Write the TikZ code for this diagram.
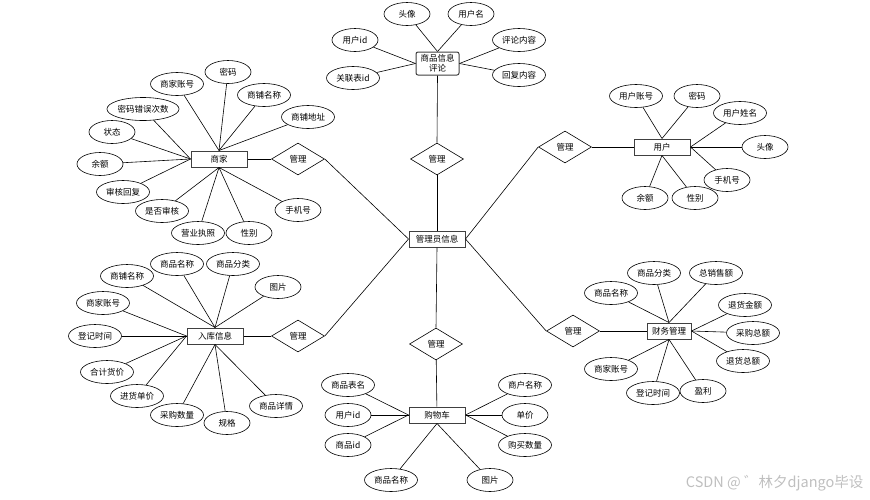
\documentclass[tikz,border=0pt]{standalone}
\usepackage{fontspec}
\setmainfont{Noto Sans CJK SC}
\usetikzlibrary{shapes.geometric}

\begin{document}
\begin{tikzpicture}[x=1pt,y=-1pt,line width=0.6pt,
        attr/.style={draw, ellipse, fill=white, inner sep=0pt, minimum width=53pt, minimum height=23pt, font=\fontsize{8.5}{10}\selectfont},
        attrs/.style={attr, minimum width=46pt},
        entity/.style={draw=black!75, line width=1pt, fill=white, rectangle, inner sep=1pt, minimum width=56pt, minimum height=16pt, font=\fontsize{8.5}{10}\selectfont},
        rel/.style={draw, diamond, fill=white, inner sep=0pt, minimum width=53pt, minimum height=32pt, font=\fontsize{8.5}{10}\selectfont}]
        \useasboundingbox (0,0) rectangle (870,499);
        % Entidade central
        \node[entity] (admin) at (437,239) {管理员信息};

        %商家
        \node[entity] (sj) at (219,159) {商家};
        \node[rel] (gl-sj) at (298,159) {管理};
        \node[attr]  (sj-zh)   at (177,84)  {商家账号};
        \node[attrs] (sj-mm)   at (228,72)  {密码};
        \node[attr]  (sj-dpmc) at (264,95)  {商铺名称};
        \node[attr]  (sj-dpdz) at (308,117) {商铺地址};
        \node[attr]  (sj-cw)   at (143,109) {密码错误次数};
        \node[attrs] (sj-zt)   at (112,132) {状态};
        \node[attrs] (sj-ye)   at (100,164) {余额};
        \node[attr]  (sj-shhf) at (123,192) {审核回复};
        \node[attr]  (sj-sfsh) at (162,211) {是否审核};
        \node[attr]  (sj-yyzz) at (198,233) {营业执照};
        \node[attrs] (sj-xb)   at (249,233) {性别};
        \node[attrs] (sj-sjh)  at (298,210) {手机号};
        \draw (sj-zh) -- (sj.north);
        \draw (sj-mm) -- (sj.north);
        \draw (sj-dpmc) -- (sj.north);
        \draw (sj-dpdz) -- (sj.north);
        \draw (sj-cw) -- (sj.west);
        \draw (sj-zt) -- (sj.west);
        \draw (sj-ye) -- (sj.west);
        \draw (sj-shhf) -- (sj.west);
        \draw (sj-sfsh) -- (sj.south);
        \draw (sj-yyzz) -- (sj.south);
        \draw (sj-xb) -- (sj.south);
        \draw (sj-sjh) -- (sj.south);
        \draw (sj) -- (gl-sj);
        \draw (gl-sj.east) -- (admin.west);

        % Comentario
        \node[entity, rounded corners=2pt, align=center, minimum width=43pt, minimum height=23pt] (pl) at (437.5,63.5) {商品信息\\评论};
        \node[rel] (gl-pl) at (437,159) {管理};
        \node[attrs] (pl-tx)   at (407,14) {头像};
        \node[attrs] (pl-yhm)  at (471,14) {用户名};
        \node[attrs] (pl-yhid) at (355,40) {用户id};
        \node[attr]  (pl-glb)  at (353,78) {关联表id};
        \node[attr]  (pl-plnr) at (519,40) {评论内容};
        \node[attr]  (pl-hfnr) at (519,75) {回复内容};
        \draw (pl-tx) -- (pl.north);
        \draw (pl-yhm) -- (pl.north);
        \draw (pl-yhid) -- (pl.west);
        \draw (pl-glb) -- (pl.west);
        \draw (pl-plnr) -- (pl.east);
        \draw (pl-hfnr) -- (pl.east);
        \draw (pl.south) -- (gl-pl.north);
        \draw (gl-pl) -- (admin);

        % Usuario
        \node[entity] (yh) at (662,147) {用户};
        \node[rel] (gl-yh) at (565,147) {管理};
        \node[attr]  (yh-zh)  at (636,96)  {用户账号};
        \node[attrs] (yh-mm)  at (697,96)  {密码};
        \node[attr]  (yh-xm)  at (740,113) {用户姓名};
        \node[attrs] (yh-tx)  at (765,147) {头像};
        \node[attrs] (yh-sjh) at (727,180) {手机号};
        \node[attrs] (yh-ye)  at (645,198) {余额};
        \node[attrs] (yh-xb)  at (695,198) {性别};
        \draw (yh-zh) -- (yh.north);
        \draw (yh-mm) -- (yh.north);
        \draw (yh-xm) -- (yh.east);
        \draw (yh-tx) -- (yh.east);
        \draw (yh-sjh) -- (yh.east);
        \draw (yh-ye) -- (yh.south);
        \draw (yh-xb) -- (yh.south);
        \draw (admin.east) -- (gl-yh.west);
        \draw (gl-yh) -- (yh);

        % Entrada de estoque
        \node[entity] (rk) at (215,336) {入库信息};
        \node[rel] (gl-rk) at (298,336) {管理};
        \node[attr]  (rk-dpmc) at (127,276) {商铺名称};
        \node[attr]  (rk-spmc) at (177,264) {商品名称};
        \node[attr]  (rk-spfl) at (233,264) {商品分类};
        \node[attrs] (rk-tp)   at (278,287) {图片};
        \node[attr]  (rk-sjzh) at (103,303) {商家账号};
        \node[attr]  (rk-djsj) at (95,336)  {登记时间};
        \node[attr]  (rk-hjhj) at (107,372) {合计货价};
        \node[attr]  (rk-jhdj) at (137,396) {进货单价};
        \node[attr]  (rk-cgsl) at (177,415) {采购数量};
        \node[attrs] (rk-gg)   at (227,423) {规格};
        \node[attr]  (rk-spxq) at (276,406) {商品详情};
        \draw (rk-dpmc) -- (rk.north);
        \draw (rk-spmc) -- (rk.north);
        \draw (rk-spfl) -- (rk.north);
        \draw (rk-tp) -- (rk.north);
        \draw (rk-sjzh) -- (rk.west);
        \draw (rk-djsj) -- (rk.west);
        \draw (rk-hjhj) -- (rk.west);
        \draw (rk-jhdj) -- (rk.west);
        \draw (rk-cgsl) -- (rk.south);
        \draw (rk-gg) -- (rk.south);
        \draw (rk-spxq) -- (rk.south);
        \draw (rk) -- (gl-rk);
        \draw (gl-rk.east) -- (admin.west);

        % Financeiro
        \node[entity, minimum width=44pt] (cw) at (669,331) {财务管理};
        \node[rel] (gl-cw) at (573,331) {管理};
        \node[attr]  (cw-spmc) at (611,293) {商品名称};
        \node[attr]  (cw-spfl) at (654,273) {商品分类};
        \node[attr]  (cw-zxse) at (716,273) {总销售额};
        \node[attr]  (cw-thje) at (745,305) {退货金额};
        \node[attr]  (cw-cgze) at (753,333) {采购总额};
        \node[attr]  (cw-thze) at (743,361) {退货总额};
        \node[attrs] (cw-yl)   at (703,391) {盈利};
        \node[attr]  (cw-djsj) at (653,393) {登记时间};
        \node[attr]  (cw-sjzh) at (611,369) {商家账号};
        \draw (cw-spmc) -- (cw.north);
        \draw (cw-spfl) -- (cw.north);
        \draw (cw-zxse) -- (cw.north);
        \draw (cw-thje) -- (cw.east);
        \draw (cw-cgze) -- (cw.east);
        \draw (cw-thze) -- (cw.east);
        \draw (cw-yl) -- (cw.south);
        \draw (cw-djsj) -- (cw.south);
        \draw (cw-sjzh) -- (cw.south);
        \draw (admin.east) -- (gl-cw.west);
        \draw (gl-cw) -- (cw);

        % Carrinho
        \node[entity] (gwc) at (437,415) {购物车};
        \node[rel] (gl-gwc) at (436,344) {管理};
        \node[attr]  (gwc-spbm) at (348,385) {商品表名};
        \node[attrs] (gwc-yhid) at (348,415) {用户id};
        \node[attrs] (gwc-spid) at (348,445) {商品id};
        \node[attr]  (gwc-spmc) at (391,480) {商品名称};
        \node[attrs] (gwc-tp)   at (490,480) {图片};
        \node[attr]  (gwc-shmc) at (525,385) {商户名称};
        \node[attrs] (gwc-dj)   at (525,415) {单价};
        \node[attr]  (gwc-gmsl) at (525,445) {购买数量};
        \draw (gwc-spbm) -- (gwc.west);
        \draw (gwc-yhid) -- (gwc.west);
        \draw (gwc-spid) -- (gwc.west);
        \draw (gwc-shmc) -- (gwc.east);
        \draw (gwc-dj) -- (gwc.east);
        \draw (gwc-gmsl) -- (gwc.east);
        \draw (gwc-spmc) -- (gwc.south);
        \draw (gwc-tp) -- (gwc.south);
        \draw (admin.south) -- (gl-gwc.north);
        \draw (gl-gwc) -- (gwc);

        % Marca d'agua
        \node[anchor=east, text=black!25, font=\fontsize{14.5}{16}\selectfont] (marca) at (867,483) {CSDN @ ゛林夕django毕设};
    \end{tikzpicture}
\end{document}
